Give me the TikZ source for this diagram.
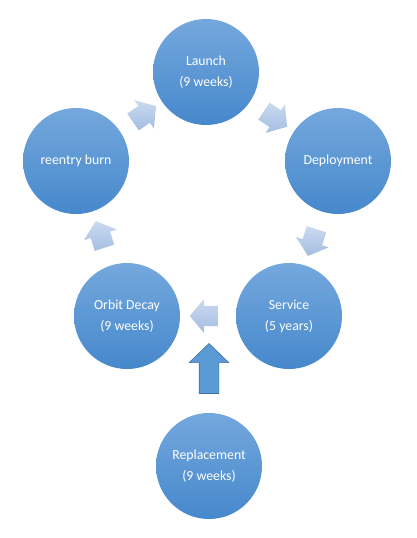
\documentclass[tikz,border=0pt]{standalone}
\usepackage{fontspec}
\setmainfont{Carlito}
\usetikzlibrary{shapes.arrows}

\definecolor{stagetop}{RGB}{116,168,221}
\definecolor{stagebottom}{RGB}{70,136,204}
\definecolor{steptop}{RGB}{202,218,240}
\definecolor{stepbottom}{RGB}{164,189,225}
\definecolor{feedfill}{RGB}{91,155,213}
\definecolor{feedline}{RGB}{65,113,156}
\newcommand\stagetextstyle{\fontsize{13.8}{21}\selectfont}

\tikzset{
  stage/.style={circle, minimum size=106pt, inner sep=0pt, top color=stagetop,
    bottom color=stagebottom, text=white, align=center, font=\stagetextstyle},
  cyclearrow/.style={single arrow, minimum height=28pt, minimum width=34pt,
    single arrow head extend=7pt, single arrow tip angle=100,
    inner xsep=0pt, inner ysep=10pt,
    top color=steptop, bottom color=stepbottom, midway, sloped, allow upside down},
  feedarrow/.style={single arrow, minimum height=50pt, minimum width=39pt,
    single arrow head extend=10pt, single arrow tip angle=92,
    inner xsep=0pt, inner ysep=9.5pt,
    fill=feedfill, draw=feedline, line width=.6pt}
}

\begin{document}
\begin{tikzpicture}[x=1pt, y=-1pt]
  \useasboundingbox (0,0) rectangle (416,538);
  \node[stage] (launch)  at (206,72)  {Launch\\(9 weeks)};
  \node[stage] (deploy)  at (338,161) {Deployment};
  \node[stage] (service) at (289,316) {Service\\(5 years)};
  \node[stage] (orbit)   at (127,316) {Orbit Decay\\(9 weeks)};
  \node[stage] (reentry) at (76,161)  {reentry burn};
  \node[stage] (replace) at (209,466) {Replacement\\(9 weeks)};

  \path (launch)  -- node[cyclearrow] {} (deploy);
  \path (deploy)  -- node[cyclearrow] {} (service);
  \path (service) -- node[cyclearrow] {} (orbit);
  \path (orbit)   -- node[cyclearrow] {} (reentry);
  \path (reentry) -- node[cyclearrow] {} (launch);

  \node[feedarrow, rotate=90, anchor=tail] (feed) at ([yshift=19pt]replace.north) {};
\end{tikzpicture}
\end{document}
